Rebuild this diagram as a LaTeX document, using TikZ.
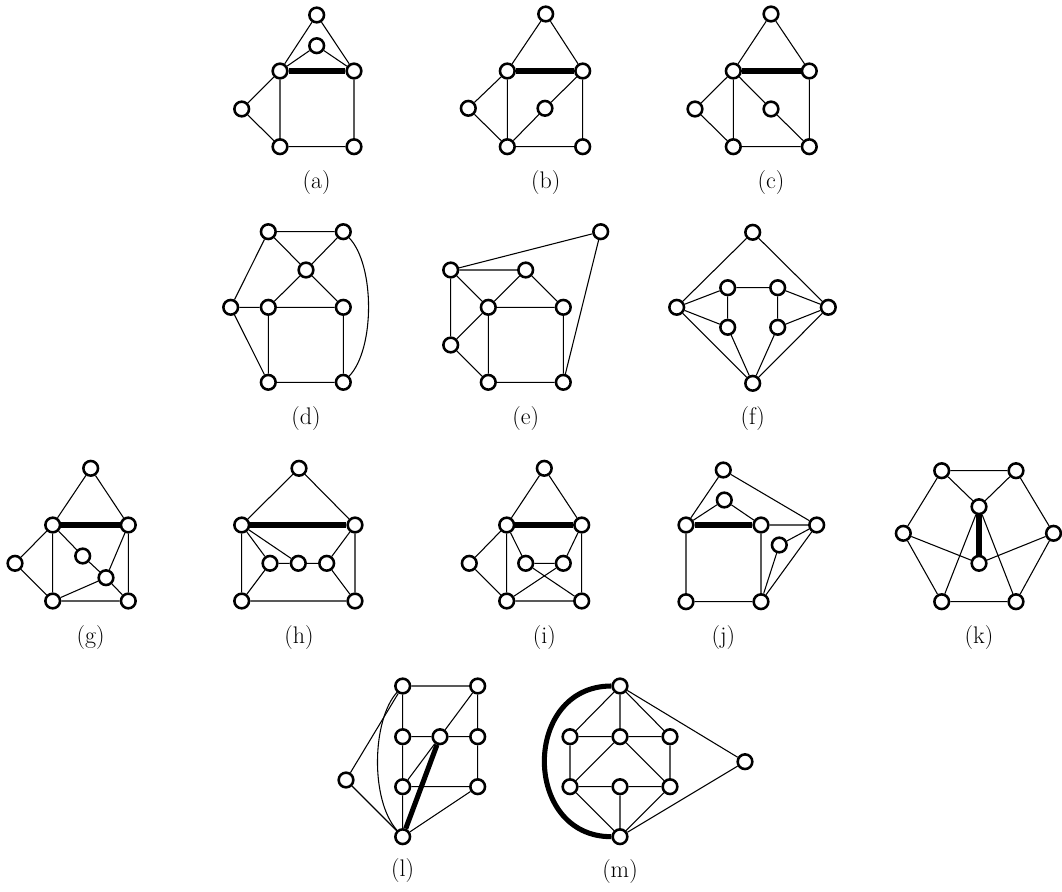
\documentclass[tikz,border=0pt]{standalone}
\usepackage{fontspec}
\setmainfont{Latin Modern Roman}
\begin{document}
\begin{tikzpicture}[x=0.75pt,y=-0.75pt,
  v/.style={circle,draw,line width=1.9pt,fill=white,minimum size=11pt,inner sep=0pt},
  e/.style={line width=0.8pt},
  heavy/.style={line width=3.8pt},
  lab/.style={font=\fontsize{18}{22}\selectfont}]
\useasboundingbox (0,0) rectangle (1062,891);
% ---------- (a)
\node[v] (a1) at (316.7,15) {};
\node[v] (a2) at (316.7,45.7) {};
\node[v] (a3) at (280,71) {};
\node[v] (a4) at (354,71) {};
\node[v] (a5) at (241.7,109) {};
\node[v] (a6) at (280,146.7) {};
\node[v] (a7) at (354,146.7) {};
\draw[e] (a1)--(a3) (a1)--(a4) (a2)--(a3) (a2)--(a4) (a3)--(a5) (a5)--(a6) (a3)--(a6) (a4)--(a7) (a6)--(a7);
\draw[heavy] (a3)--(a4);
\node[lab] (la) at (316.7,183) {(a)};
% ---------- (b)
\node[v] (b1) at (545.7,14) {};
\node[v] (b2) at (507.3,71) {};
\node[v] (b3) at (582.7,71) {};
\node[v] (b4) at (468.3,108.3) {};
\node[v] (b5) at (545,108.3) {};
\node[v] (b6) at (507.3,146.7) {};
\node[v] (b7) at (582.7,146.7) {};
\draw[e] (b1)--(b2) (b1)--(b3) (b2)--(b4) (b4)--(b6) (b2)--(b6) (b3)--(b5) (b5)--(b6) (b3)--(b7) (b6)--(b7);
\draw[heavy] (b2)--(b3);
\node[lab] (lb) at (545.7,183) {(b)};
% ---------- (c)
\node[v] (c1) at (771,14) {};
\node[v] (c2) at (733.3,71) {};
\node[v] (c3) at (809.3,71) {};
\node[v] (c4) at (695,109) {};
\node[v] (c5) at (771,109) {};
\node[v] (c6) at (733.3,146.7) {};
\node[v] (c7) at (809.3,146.7) {};
\draw[e] (c1)--(c2) (c1)--(c3) (c2)--(c4) (c4)--(c6) (c2)--(c6) (c2)--(c5) (c5)--(c7) (c3)--(c7) (c6)--(c7);
\draw[heavy] (c2)--(c3);
\node[lab] (lc) at (771,183) {(c)};
% ---------- (d)
\node[v] (d1) at (268.3,231.7) {};
\node[v] (d2) at (343.3,231.7) {};
\node[v] (d3) at (306,270) {};
\node[v] (d4) at (230.7,307.3) {};
\node[v] (d5) at (268.3,307.3) {};
\node[v] (d6) at (343.3,307.3) {};
\node[v] (d7) at (268.3,382.3) {};
\node[v] (d8) at (343.3,382.3) {};
\draw[e] (d1)--(d2) (d1)--(d3) (d2)--(d3) (d3)--(d5) (d3)--(d6) (d1)--(d4) (d4)--(d5) (d5)--(d6) (d4)--(d7) (d5)--(d7) (d6)--(d8) (d7)--(d8);
\draw[e] (d2) .. controls (375,265) and (375,349) .. (d8);
\node[lab] (ld) at (306,419) {(d)};
% ---------- (e)
\node[v] (e1) at (600.7,231.7) {};
\node[v] (e2) at (450.7,270) {};
\node[v] (e3) at (525.7,270) {};
\node[v] (e4) at (488.3,307.3) {};
\node[v] (e5) at (563.3,307.3) {};
\node[v] (e6) at (450.7,345) {};
\node[v] (e7) at (488.3,382.3) {};
\node[v] (e8) at (563.3,382.3) {};
\draw[e] (e2)--(e1) (e1)--(e8) (e2)--(e3) (e2)--(e4) (e3)--(e4) (e3)--(e5) (e4)--(e5) (e2)--(e6) (e6)--(e4) (e6)--(e7) (e4)--(e7) (e5)--(e8) (e7)--(e8);
\node[lab] (le) at (525.7,419) {(e)};
% ---------- (f)
\node[v] (f1) at (752.7,232.3) {};
\node[v] (f2) at (676.7,307.3) {};
\node[v] (f3) at (828.3,307.3) {};
\node[v] (f4) at (727.7,287.7) {};
\node[v] (f5) at (777.7,287.7) {};
\node[v] (f6) at (727.7,327.3) {};
\node[v] (f7) at (777.7,327.3) {};
\node[v] (f8) at (752.7,383.3) {};
\draw[e] (f1)--(f2) (f1)--(f3) (f2)--(f4) (f2)--(f6) (f2)--(f8) (f3)--(f5) (f3)--(f7) (f3)--(f8) (f4)--(f5) (f4)--(f6) (f5)--(f7) (f6)--(f8) (f7)--(f8);
\node[lab] (lf) at (752.7,419) {(f)};
% ---------- (g)
\node[v] (g1) at (90.7,468.3) {};
\node[v] (g2) at (52.7,525) {};
\node[v] (g3) at (128.3,525) {};
\node[v] (g4) at (15,563.3) {};
\node[v] (g5) at (82.7,556) {};
\node[v] (g6) at (106,577.7) {};
\node[v] (g7) at (52.7,601) {};
\node[v] (g8) at (128.3,601) {};
\draw[e] (g1)--(g2) (g1)--(g3) (g2)--(g4) (g4)--(g7) (g2)--(g7) (g2)--(g5) (g5)--(g6) (g6)--(g8) (g6)--(g3) (g6)--(g7) (g3)--(g8) (g7)--(g8);
\draw[heavy] (g2)--(g3);
\node[lab] (lg) at (90.7,638) {(g)};
% ---------- (h)
\node[v] (h1) at (299,468.3) {};
\node[v] (h2) at (241.7,525) {};
\node[v] (h3) at (355,525) {};
\node[v] (h4) at (270,563.3) {};
\node[v] (h5) at (298.3,563.3) {};
\node[v] (h6) at (326.7,563.3) {};
\node[v] (h7) at (241.7,601) {};
\node[v] (h8) at (355,601) {};
\draw[e] (h1)--(h2) (h1)--(h3) (h2)--(h4) (h2)--(h5) (h4)--(h5) (h5)--(h6) (h6)--(h3) (h4)--(h7) (h6)--(h8) (h2)--(h7) (h3)--(h8) (h7)--(h8);
\draw[heavy] (h2)--(h3);
\node[lab] (lh) at (299,638) {(h)};
% ---------- (i)
\node[v] (i1) at (544.3,468.3) {};
\node[v] (i2) at (506.7,525) {};
\node[v] (i3) at (581.7,525) {};
\node[v] (i4) at (469.3,563.3) {};
\node[v] (i5) at (525.7,563.3) {};
\node[v] (i6) at (563.3,563.3) {};
\node[v] (i7) at (506.7,601) {};
\node[v] (i8) at (581.7,601) {};
\draw[e] (i1)--(i2) (i1)--(i3) (i2)--(i4) (i4)--(i7) (i2)--(i7) (i2)--(i5) (i5)--(i6) (i6)--(i3) (i6)--(i7) (i5)--(i8) (i3)--(i8) (i7)--(i8);
\draw[heavy] (i2)--(i3);
\node[lab] (li) at (544.3,638) {(i)};
% ---------- (j)
\node[v] (j1) at (723.3,470) {};
\node[v] (j2) at (724.3,500) {};
\node[v] (j3) at (686,525) {};
\node[v] (j4) at (761,525) {};
\node[v] (j5) at (816.7,525) {};
\node[v] (j6) at (779.3,545) {};
\node[v] (j7) at (686,601.7) {};
\node[v] (j8) at (761,601.7) {};
\draw[e] (j1)--(j3) (j1)--(j5) (j2)--(j3) (j2)--(j4) (j4)--(j5) (j6)--(j5) (j6)--(j8) (j8)--(j5) (j4)--(j8) (j3)--(j7) (j7)--(j8);
\draw[heavy] (j3)--(j4);
\node[lab] (lj) at (723.3,638) {(j)};
% ---------- (k)
\node[v] (k1) at (941.7,470.7) {};
\node[v] (k2) at (1016,470.7) {};
\node[v] (k3) at (979,506.7) {};
\node[v] (k4) at (903.3,533.3) {};
\node[v] (k5) at (1053.5,533.3) {};
\node[v] (k6) at (979,563.3) {};
\node[v] (k7) at (941.7,601.7) {};
\node[v] (k8) at (1016,601.7) {};
\draw[e] (k1)--(k2) (k1)--(k3) (k2)--(k3) (k1)--(k4) (k2)--(k5) (k4)--(k6) (k5)--(k6) (k4)--(k7) (k5)--(k8) (k3)--(k7) (k3)--(k8) (k7)--(k8);
\draw[heavy] (k3)--(k6);
\node[lab] (lk) at (979,638) {(k)};
% ---------- (l)
\node[v] (l1) at (402.7,686) {};
\node[v] (l2) at (477.7,686) {};
\node[v] (l3) at (402.7,736.7) {};
\node[v] (l4) at (440,736.7) {};
\node[v] (l5) at (477.7,736.7) {};
\node[v] (l6) at (402.7,786.7) {};
\node[v] (l7) at (477.7,786.7) {};
\node[v] (l8) at (346,780) {};
\node[v] (l9) at (402.7,836.7) {};
\draw[e] (l1)--(l2) (l1)--(l3) (l2)--(l5) (l2)--(l4) (l3)--(l4) (l4)--(l5) (l3)--(l6) (l6)--(l9) (l6)--(l7) (l5)--(l7) (l7)--(l9) (l4)--(l6) (l1)--(l8) (l8)--(l9);
\draw[e] (l1) .. controls (372,720) and (370,800) .. (l9);
\draw[heavy] (l4)--(l9);
\node[lab] (ll) at (402.7,871) {(l)};
% ---------- (m)
\node[v] (m1) at (620,686) {};
\node[v] (m2) at (570,736.7) {};
\node[v] (m3) at (620,736.7) {};
\node[v] (m4) at (670,736.7) {};
\node[v] (m5) at (570,786.7) {};
\node[v] (m6) at (620,786.7) {};
\node[v] (m7) at (670,786.7) {};
\node[v] (m8) at (620,836.7) {};
\node[v] (m9) at (745,761.7) {};
\draw[e] (m1)--(m2) (m1)--(m3) (m1)--(m4) (m2)--(m3) (m3)--(m4) (m2)--(m5) (m4)--(m7) (m3)--(m5) (m3)--(m7) (m5)--(m6) (m6)--(m7) (m6)--(m8) (m5)--(m8) (m7)--(m8) (m1)--(m9) (m9)--(m8);
\draw[heavy] (m1.west) .. controls (522,686) and (522,836.7) .. (m8.west);
\node[lab] (lm) at (620,872) {(m)};
\end{tikzpicture}
\end{document}
